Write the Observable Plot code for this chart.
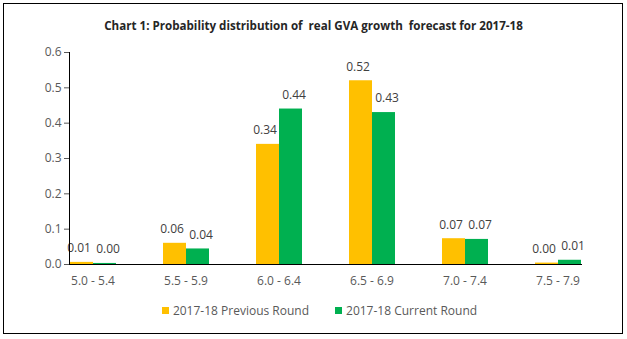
<!DOCTYPE html>
<html><head><meta charset="utf-8">
<script src="https://cdn.jsdelivr.net/npm/d3@7"></script>
<script src="https://cdn.jsdelivr.net/npm/@observablehq/plot@0.6"></script>
<style>
body{margin:0;background:#fff;font-family:"Open Sans",sans-serif;width:627px;height:339px;position:relative;overflow:hidden;}
#frame{position:absolute;left:3px;top:3px;width:620px;height:331px;border:1px solid #000;box-sizing:border-box;}
#title{position:absolute;left:0;top:18px;width:627px;text-align:center;font-weight:bold;font-size:11.6px;font-family:"Liberation Sans Narrow","Open Sans",sans-serif;color:#262626;white-space:pre;}
#chart{position:absolute;left:0;top:40px;}
#legend{position:absolute;left:6px;top:302px;width:627px;display:flex;justify-content:center;gap:26px;font-size:12px;color:#595959;}
.item{display:flex;align-items:center;gap:4px;}
.sw{width:7px;height:7px;display:inline-block;}
</style></head>
<body>
<div id="frame"></div>
<div id="title"></div>
<div id="chart"></div>
<div id="legend"></div>
<script>
const titleText = "Chart 1: Probability distribution of  real GVA growth  forecast for 2017-18";
const categories = ["5.0 - 5.4", "5.5 - 5.9", "6.0 - 6.4", "6.5 - 6.9", "7.0 - 7.4", "7.5 - 7.9"];
const seriesNames = ["2017-18 Previous Round", "2017-18 Current Round"];
const previousRound = [0.006, 0.060, 0.34, 0.52, 0.073, 0.004];
const currentRound = [0.003, 0.044, 0.44, 0.43, 0.071, 0.012];
const seriesColors = ["#FFC000", "#00B050"];
const yTicks = [0, 0.1, 0.2, 0.3, 0.4, 0.5, 0.6];

document.getElementById("title").textContent = titleText;

const data = [];
categories.forEach((c, i) => {
  data.push({cat: c, series: seriesNames[0], value: previousRound[i]});
  data.push({cat: c, series: seriesNames[1], value: currentRound[i]});
});
const prevData = data.filter(d => d.series === seriesNames[0]);
const currData = data.filter(d => d.series === seriesNames[1]);

const chart = Plot.plot({
  width: 627, height: 250,
  marginLeft: 44, marginRight: 22, marginTop: 12, marginBottom: 26,
  style: {fontFamily: "Open Sans", fontSize: "12px", color: "#595959", background: "transparent"},
  fx: {domain: categories, paddingInner: 0.5, paddingOuter: 0.25, axis: "bottom", tickSize: 0, tickPadding: 12, label: null},
  x: {domain: seriesNames, padding: 0, axis: null},
  y: {domain: [0, 0.6], ticks: yTicks, tickFormat: d => d.toFixed(1), label: null, tickSize: 5, tickPadding: 3},
  color: {domain: seriesNames, range: seriesColors},
  marks: [
    Plot.barY(data, {fx: "cat", x: "series", y: "value", fill: "series"}),
    Plot.text(prevData, {fx: "cat", x: "series", y: "value", text: d => d.value.toFixed(2), dy: -14, dx: -3, fill: "#404040", fontSize: 12}),
    Plot.text(currData, {fx: "cat", x: "series", y: "value", text: d => d.value.toFixed(2), dy: -14, dx: 3, fill: "#404040", fontSize: 12}),
    Plot.frame({anchor: "left", facet: "super", stroke: "#000"}),
    Plot.frame({anchor: "bottom", facet: "super", stroke: "#000"})
  ]
});
document.getElementById("chart").appendChild(chart);

const legend = document.getElementById("legend");
seriesNames.forEach((s, i) => {
  const it = document.createElement("div"); it.className = "item";
  const sw = document.createElement("span"); sw.className = "sw"; sw.style.background = seriesColors[i];
  const t = document.createElement("span"); t.textContent = s;
  it.appendChild(sw); it.appendChild(t); legend.appendChild(it);
});
</script>
</body></html>
